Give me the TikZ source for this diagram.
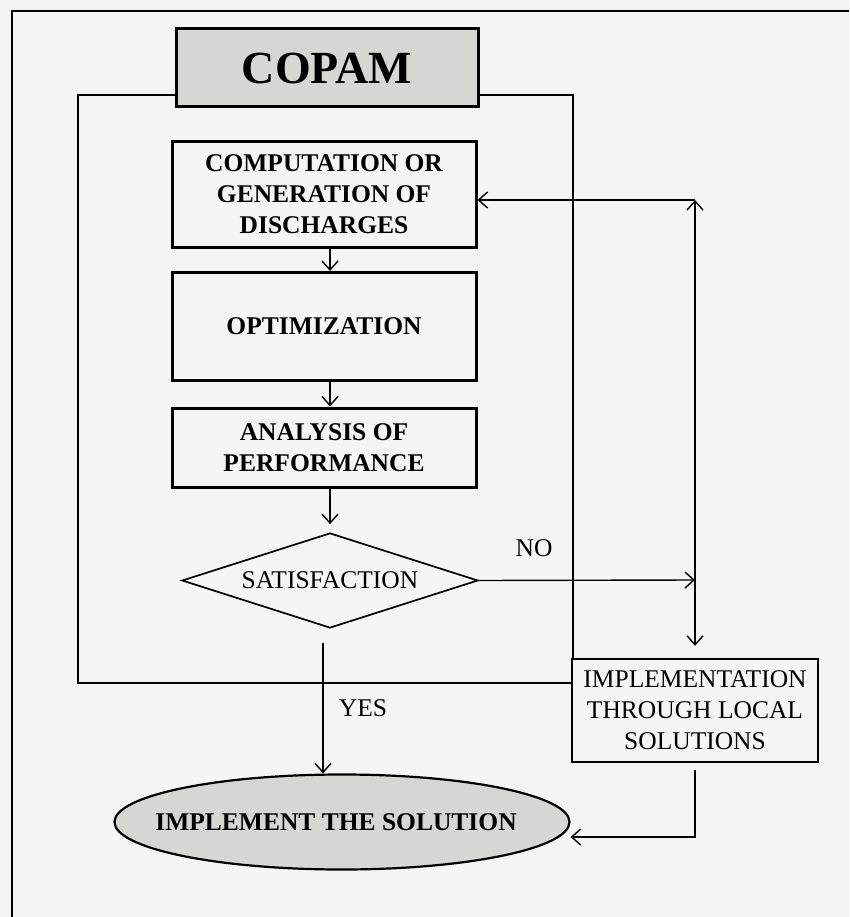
\documentclass[tikz,border=0pt]{standalone}
\usepackage{fontspec}
\setmainfont{Liberation Serif}
\usepackage{tikz}
\usetikzlibrary{shapes.geometric,arrows.meta}
\definecolor{paper}{RGB}{245,245,243}
\definecolor{boxgray}{RGB}{214,214,211}

\begin{document}
\begin{tikzpicture}[x=1pt,y=-1pt,
 >={Straight Barb[length=9pt,width=16pt]},
 thin/.style={line width=1.4pt},
 stepbox/.style={draw,line width=3pt,fill=paper,inner sep=0pt,align=center,
   minimum width=304pt,font=\bfseries\fontsize{25.5}{31}\selectfont},
 plain/.style={font=\fontsize{25.5}{31}\selectfont}]
 \fill[paper] (0,0) rectangle (849,917);
 \useasboundingbox (0,0) rectangle (849,917);
 \draw[line width=2.4pt] (12,917) -- (12,11) -- (849,11);

 % frame of COPAM
 \draw[thin] (78,95) rectangle (573,683);

 \node [stepbox,fill=boxgray,minimum width=302pt,minimum height=78pt,
   font=\bfseries\fontsize{46}{50}\selectfont] (COPAM) at (327,68) {COPAM};
 \node [stepbox,minimum height=105pt] (COMP) at (324,194.5) {COMPUTATION OR\\GENERATION OF\\DISCHARGES};
 \node [stepbox,minimum height=108pt] (OPT) at (324,326.5) {OPTIMIZATION};
 \node [stepbox,minimum height=79pt] (PERF) at (324,447.5) {ANALYSIS OF\\PERFORMANCE};
 \node [draw,diamond,aspect=3.1,line width=1.7pt,fill=paper,inner sep=0pt,
   minimum width=296pt,minimum height=95pt,plain] (SAT) at (330,580.5) {SATISFACTION};
 \node [draw,line width=2.4pt,fill=paper,inner sep=0pt,align=center,
   minimum width=246pt,minimum height=103pt,plain] (IMPL) at (695,710.5)
   {IMPLEMENTATION\\THROUGH LOCAL\\SOLUTIONS};
 \node [draw,ellipse,line width=2.2pt,fill=boxgray,inner sep=0pt,
   minimum width=455pt,minimum height=95pt,font=\bfseries\fontsize{25.5}{31}\selectfont]
   (SOL) at (342,822) {\makebox[0pt]{IMPLEMENT THE SOLUTION\hspace{12pt}}};

 \coordinate (UP) at (695,200);
 \coordinate (NO) at (695,580);
 \coordinate (YES) at (323,643);
 \coordinate (BACK) at (695,837);

 \draw[thin,->] ([xshift=6pt]COMP.south) -- ([xshift=6pt]OPT.north);
 \draw[thin,->] ([xshift=6pt]OPT.south) -- ([xshift=6pt]PERF.north);
 \draw[thin,->,shorten >=8pt] ([xshift=6pt]PERF.south) -- (SAT.north);
 \draw[thin,->] (SAT.east) -- (NO);
 \draw[thin,<->,shorten >=12pt] (UP) -- (IMPL.north);
 \draw[thin,->] (UP) -- (COMP.east |- UP);
 \draw[thin,->] (YES) -- (YES |- SOL.north);
 \draw[thin,->,shorten <=7pt] (IMPL.south) -- (BACK) -- (SOL.east |- BACK);

 \node [plain] (NOLBL) at (534,548) {NO};
 \node [plain] (YESLBL) at (363,708) {YES};
\end{tikzpicture}
\end{document}
